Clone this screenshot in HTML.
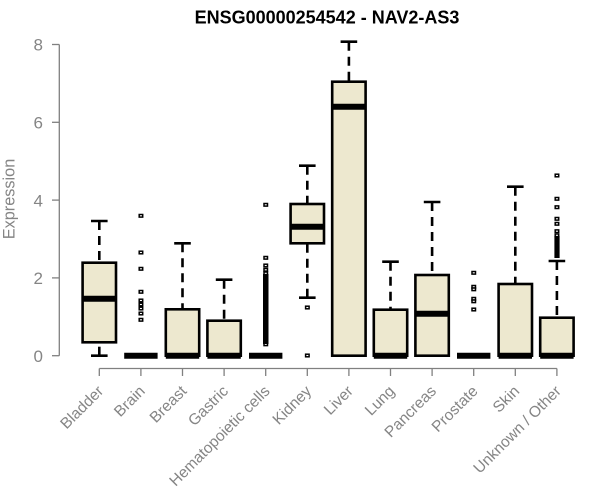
<!DOCTYPE html>
<html><head><meta charset="utf-8"><style>
html,body{margin:0;padding:0;background:#fff;}
svg{display:block;}
text{font-family:"Liberation Sans",Arial,sans-serif;}
</style></head><body>
<svg width="600" height="500" viewBox="0 0 600 500" xmlns="http://www.w3.org/2000/svg">
<rect width="600" height="500" fill="#fff"/>
<text x="327" y="23.3" text-anchor="middle" font-size="18" font-weight="bold" fill="#000">ENSG00000254542 - NAV2-AS3</text>

<!-- y axis -->
<g stroke="#808080" stroke-width="1.3" fill="none">
<line x1="59.3" y1="44.5" x2="59.3" y2="355.7"/>
<line x1="52" y1="355.7" x2="59.3" y2="355.7"/>
<line x1="52" y1="277.9" x2="59.3" y2="277.9"/>
<line x1="52" y1="200.1" x2="59.3" y2="200.1"/>
<line x1="52" y1="122.3" x2="59.3" y2="122.3"/>
<line x1="52" y1="44.5" x2="59.3" y2="44.5"/>
</g>
<g fill="#858585" font-size="17" text-anchor="end">
<text x="43" y="361.9">0</text>
<text x="43" y="284.1">2</text>
<text x="43" y="206.3">4</text>
<text x="43" y="128.5">6</text>
<text x="43" y="50.7">8</text>
</g>
<text transform="translate(14.5,199) rotate(-90)" text-anchor="middle" font-size="16.3" fill="#858585">Expression</text>

<!-- x axis -->
<g stroke="#808080" stroke-width="1.3" fill="none">
<line x1="99.3" y1="368.5" x2="556.9" y2="368.5"/>
<line x1="99.3" y1="368.5" x2="99.3" y2="376"/>
<line x1="140.9" y1="368.5" x2="140.9" y2="376"/>
<line x1="182.5" y1="368.5" x2="182.5" y2="376"/>
<line x1="224.1" y1="368.5" x2="224.1" y2="376"/>
<line x1="265.7" y1="368.5" x2="265.7" y2="376"/>
<line x1="307.3" y1="368.5" x2="307.3" y2="376"/>
<line x1="348.9" y1="368.5" x2="348.9" y2="376"/>
<line x1="390.5" y1="368.5" x2="390.5" y2="376"/>
<line x1="432.1" y1="368.5" x2="432.1" y2="376"/>
<line x1="473.7" y1="368.5" x2="473.7" y2="376"/>
<line x1="515.3" y1="368.5" x2="515.3" y2="376"/>
<line x1="556.9" y1="368.5" x2="556.9" y2="376"/>
</g>
<g fill="#858585" font-size="15.5" text-anchor="end">
<text transform="translate(104.3,392) rotate(-45)">Bladder</text>
<text transform="translate(145.9,392) rotate(-45)">Brain</text>
<text transform="translate(187.5,392) rotate(-45)">Breast</text>
<text transform="translate(229.1,392) rotate(-45)">Gastric</text>
<text transform="translate(270.7,392) rotate(-45)">Hematopoietic cells</text>
<text transform="translate(312.3,392) rotate(-45)">Kidney</text>
<text transform="translate(353.9,392) rotate(-45)">Liver</text>
<text transform="translate(395.5,392) rotate(-45)">Lung</text>
<text transform="translate(437.1,392) rotate(-45)">Pancreas</text>
<text transform="translate(478.7,392) rotate(-45)">Prostate</text>
<text transform="translate(520.3,392) rotate(-45)">Skin</text>
<text transform="translate(561.9,392) rotate(-45)">Unknown / Other</text>
</g>

<!-- whiskers (dashed) -->
<g stroke="#000" stroke-width="2.6" stroke-dasharray="9 6" fill="none">
<line x1="99.3" y1="221" x2="99.3" y2="262.7"/>
<line x1="99.3" y1="355.7" x2="99.3" y2="342.3"/>
<line x1="182.5" y1="243.3" x2="182.5" y2="309.3"/>
<line x1="224.1" y1="279.7" x2="224.1" y2="320.7"/>
<line x1="307.3" y1="165.7" x2="307.3" y2="204"/>
<line x1="307.3" y1="297.7" x2="307.3" y2="243.3"/>
<line x1="348.9" y1="41.7" x2="348.9" y2="81.7"/>
<line x1="390.5" y1="261.7" x2="390.5" y2="309.7"/>
<line x1="432.1" y1="202" x2="432.1" y2="275"/>
<line x1="515.3" y1="186.7" x2="515.3" y2="284"/>
<line x1="556.9" y1="261" x2="556.9" y2="317.7"/>
</g>
<!-- caps -->
<g stroke="#000" stroke-width="2.6" fill="none">
<line x1="91" y1="221" x2="107.6" y2="221"/>
<line x1="91" y1="355.7" x2="107.6" y2="355.7"/>
<line x1="174.2" y1="243.3" x2="190.8" y2="243.3"/>
<line x1="215.8" y1="279.7" x2="232.4" y2="279.7"/>
<line x1="299" y1="165.7" x2="315.6" y2="165.7"/>
<line x1="299" y1="297.7" x2="315.6" y2="297.7"/>
<line x1="340.6" y1="41.7" x2="357.2" y2="41.7"/>
<line x1="382.2" y1="261.7" x2="398.8" y2="261.7"/>
<line x1="423.8" y1="202" x2="440.4" y2="202"/>
<line x1="507" y1="186.7" x2="523.6" y2="186.7"/>
<line x1="548.6" y1="261" x2="565.2" y2="261"/>
</g>

<!-- boxes -->
<g stroke="#000" stroke-width="2.6" fill="#ede8cf">
<rect x="82.6" y="262.7" width="33.4" height="79.6"/>
<rect x="165.8" y="309.3" width="33.4" height="46.4"/>
<rect x="207.4" y="320.7" width="33.4" height="35"/>
<rect x="290.6" y="204" width="33.4" height="39.3"/>
<rect x="332.2" y="81.7" width="33.4" height="274"/>
<rect x="373.8" y="309.7" width="33.4" height="46"/>
<rect x="415.4" y="275" width="33.4" height="80.7"/>
<rect x="498.6" y="284" width="33.4" height="71.7"/>
<rect x="540.2" y="317.7" width="33.4" height="38"/>
</g>
<!-- medians -->
<g stroke="#000" stroke-width="6" fill="none">
<line x1="82.6" y1="298.7" x2="116" y2="298.7"/>
<line x1="124.2" y1="355.7" x2="157.6" y2="355.7"/>
<line x1="165.8" y1="355.7" x2="199.2" y2="355.7"/>
<line x1="207.4" y1="355.7" x2="240.8" y2="355.7"/>
<line x1="249" y1="355.7" x2="282.4" y2="355.7"/>
<line x1="290.6" y1="226.7" x2="324" y2="226.7"/>
<line x1="332.2" y1="106.7" x2="365.6" y2="106.7"/>
<line x1="373.8" y1="355.7" x2="407.2" y2="355.7"/>
<line x1="415.4" y1="313.7" x2="448.8" y2="313.7"/>
<line x1="457" y1="355.7" x2="490.4" y2="355.7"/>
<line x1="498.6" y1="355.7" x2="532" y2="355.7"/>
<line x1="540.2" y1="355.7" x2="573.6" y2="355.7"/>
</g>

<!-- outliers -->
<g stroke="#000" stroke-width="1.5" fill="#fff">
<rect x="139.2" y="214.5" width="3.5" height="2.6"/>
<rect x="139.2" y="251.2" width="3.5" height="2.6"/>
<rect x="139.2" y="267.5" width="3.5" height="2.6"/>
<rect x="139.2" y="290.5" width="3.5" height="2.6"/>
<rect x="139.2" y="299.2" width="3.5" height="2.6"/>
<rect x="139.2" y="303.2" width="3.5" height="2.6"/>
<rect x="139.2" y="307.2" width="3.5" height="2.6"/>
<rect x="139.2" y="312.2" width="3.5" height="2.6"/>
<rect x="139.2" y="318.5" width="3.5" height="2.6"/>
<rect x="264" y="203.5" width="3.5" height="2.6"/>
<rect x="264" y="256.5" width="3.5" height="2.6"/>
<rect x="264" y="264.2" width="3.5" height="2.6"/>
<rect x="264" y="268.5" width="3.5" height="2.6"/>
<rect x="264" y="272" width="3.5" height="2.6"/>
<rect x="264" y="343" width="3.5" height="2.6"/>
<rect x="305.6" y="306.2" width="3.5" height="2.6"/>
<rect x="305.6" y="354.2" width="3.5" height="2.6"/>
<rect x="472" y="271.5" width="3.5" height="2.6"/>
<rect x="472" y="285.5" width="3.5" height="2.6"/>
<rect x="472" y="288" width="3.5" height="2.6"/>
<rect x="472" y="297.5" width="3.5" height="2.6"/>
<rect x="472" y="300" width="3.5" height="2.6"/>
<rect x="472" y="308.2" width="3.5" height="2.6"/>
<rect x="555.2" y="174.2" width="3.5" height="2.6"/>
<rect x="555.2" y="197.5" width="3.5" height="2.6"/>
<rect x="555.2" y="205.9" width="3.5" height="2.6"/>
<rect x="555.2" y="217.5" width="3.5" height="2.6"/>
<rect x="555.2" y="222.5" width="3.5" height="2.6"/>
<rect x="555.2" y="229.9" width="3.5" height="2.6"/>
<rect x="555.2" y="234" width="3.5" height="2.6"/>
</g>
<rect x="263" y="274" width="5.5" height="70" fill="#000"/>
<rect x="554.4" y="236" width="5.2" height="22" fill="#000"/>
</svg>
</body></html>
